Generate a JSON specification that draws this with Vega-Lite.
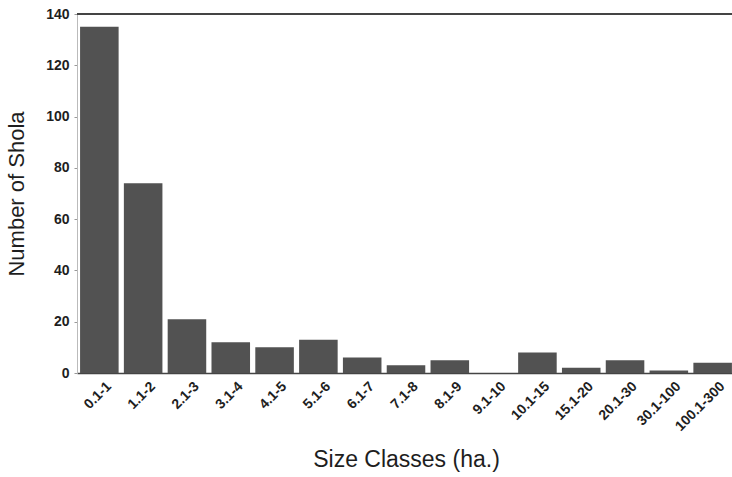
{
  "$schema": "https://vega.github.io/schema/vega-lite/v6.json",
  "width": 658,
  "height": 359,
  "autosize": {"type": "none"},
  "padding": {"left": 77, "top": 14, "right": 0, "bottom": 104},
  "background": "white",
  "config": {
    "view": {"stroke": null},
    "font": "Liberation Sans",
    "axis": {"labelFont": "Liberation Sans", "titleFont": "Liberation Sans", "labelColor": "#1e1e1e", "titleColor": "#1e1e1e"}
  },
  "data": {
    "values": [
      {"size_class": "0.1-1", "count": 135},
      {"size_class": "1.1-2", "count": 74},
      {"size_class": "2.1-3", "count": 21},
      {"size_class": "3.1-4", "count": 12},
      {"size_class": "4.1-5", "count": 10},
      {"size_class": "5.1-6", "count": 13},
      {"size_class": "6.1-7", "count": 6},
      {"size_class": "7.1-8", "count": 3},
      {"size_class": "8.1-9", "count": 5},
      {"size_class": "9.1-10", "count": 0},
      {"size_class": "10.1-15", "count": 8},
      {"size_class": "15.1-20", "count": 2},
      {"size_class": "20.1-30", "count": 5},
      {"size_class": "30.1-100", "count": 1},
      {"size_class": "100.1-300", "count": 4}
    ]
  },
  "layer": [
    {
      "mark": {"type": "bar", "color": "#525252"},
      "encoding": {
        "x": {
          "field": "size_class",
          "type": "nominal",
          "sort": null,
          "scale": {"paddingInner": 0.12, "paddingOuter": 0.07},
          "axis": {
            "title": "Size Classes (ha.)",
            "titleFontSize": 23,
            "titleFontWeight": "normal",
            "titlePadding": 15,
            "labelAngle": -45,
            "labelFontSize": 14,
            "labelFontWeight": "bold",
            "labelPadding": 6,
            "labelOffset": 5,
            "ticks": false,
            "domainColor": "#444",
            "domainWidth": 1.5
          }
        },
        "y": {
          "field": "count",
          "type": "quantitative",
          "scale": {"domain": [0, 140], "nice": false},
          "axis": {
            "title": "Number of Shola",
            "titleFontSize": 22,
            "titleFontWeight": "normal",
            "titlePadding": 17,
            "values": [0, 20, 40, 60, 80, 100, 120, 140],
            "labelFontSize": 14,
            "labelFontWeight": "bold",
            "labelPadding": 5,
            "tickSize": 3,
            "tickColor": "#999",
            "domainColor": "#bbb",
            "grid": false
          }
        }
      }
    },
    {
      "mark": {"type": "rule", "color": "#444", "strokeWidth": 1.5},
      "encoding": {"y": {"datum": 140}}
    }
  ]
}
